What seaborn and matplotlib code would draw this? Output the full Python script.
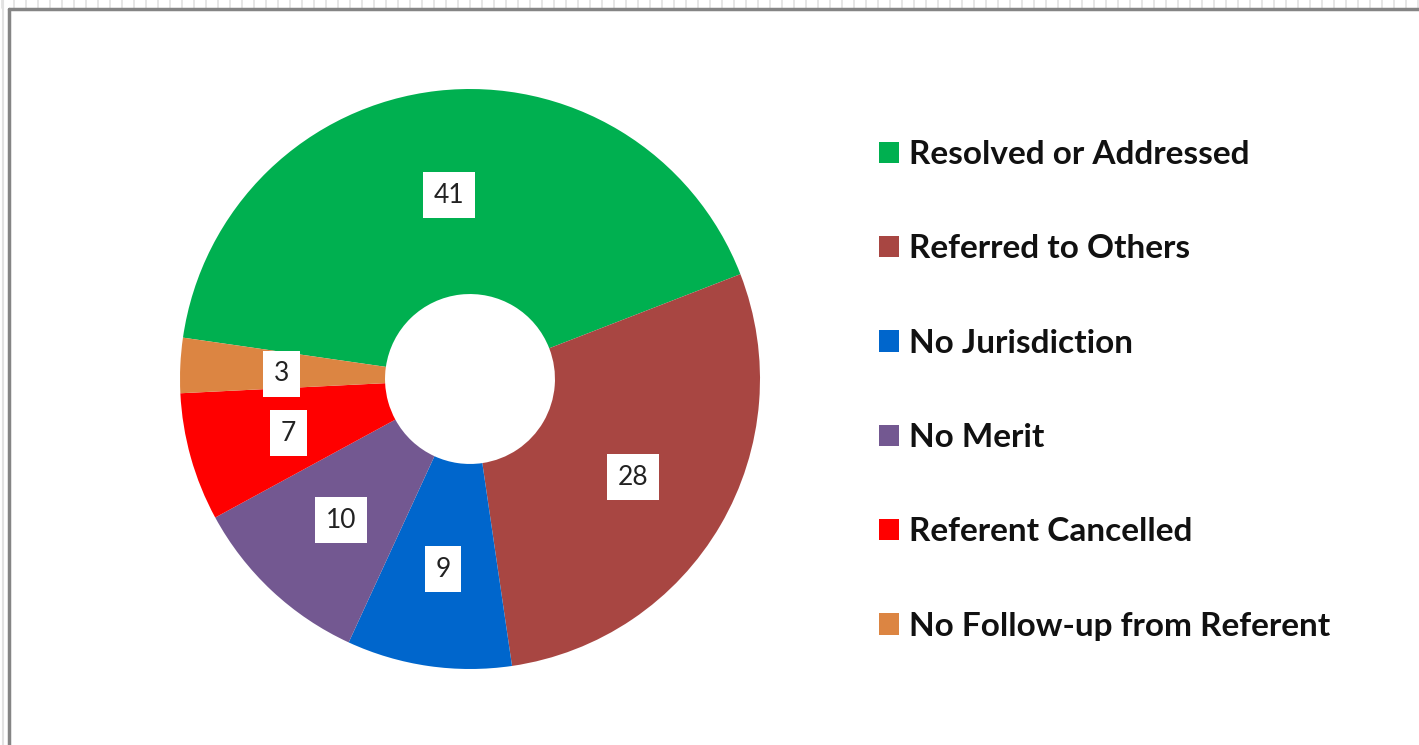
import matplotlib
matplotlib.use("Agg")
import matplotlib.pyplot as plt
from matplotlib.patches import Rectangle
from matplotlib.lines import Line2D
import numpy as np
import seaborn as sns

categories = ["Resolved or Addressed", "Referred to Others", "No Jurisdiction",
              "No Merit", "Referent Cancelled", "No Follow-up from Referent"]
values = [41, 28, 9, 10, 7, 3]
colors = ["#00B050", "#A84642", "#0066CC", "#735891", "#FF0000", "#DC8542"]

sns.set_theme(style="white")
plt.rcParams['font.family'] = ['Lato', 'DejaVu Sans']

W, H = 1419, 745
fig = plt.figure(figsize=(W / 100, H / 100), dpi=100)
fig.patch.set_facecolor("white")

# spreadsheet-like background strips and chart frame
for x in range(2, W, 12):
    fig.add_artist(Line2D([x / W, x / W], [1 - 8 / H, 1], transform=fig.transFigure,
                          color="#e2e2e2", lw=1.2))
fig.add_artist(Line2D([3 / W, 3 / W], [0, 1], transform=fig.transFigure, color="#e2e2e2", lw=1.5))
fig.add_artist(Line2D([8.5 / W, 8.5 / W], [0, 1 - 9 / H], transform=fig.transFigure,
                      color="#858585", lw=2.5))
fig.add_artist(Line2D([8.5 / W, 1], [1 - 9 / H, 1 - 9 / H], transform=fig.transFigure,
                      color="#858585", lw=2.5))

cx, cy, R = 470, 379, 290
ax = fig.add_axes([(cx - R) / W, (H - cy - R) / H, 2 * R / W, 2 * R / H])

wedges, texts = ax.pie(values, colors=colors, startangle=171.8, counterclock=False,
                       radius=1.0, wedgeprops=dict(width=1 - 0.293, edgecolor="none"))
ax.set_xlim(-1, 1)
ax.set_ylim(-1, 1)
for w, v in zip(wedges, values):
    ang = np.deg2rad((w.theta1 + w.theta2) / 2)
    r = 0.65
    ax.text(r * np.cos(ang), r * np.sin(ang) - 0.012, str(v), ha="center", va="center",
            fontsize=19, color="#222222",
            bbox=dict(boxstyle="square,pad=0.4", facecolor="white", edgecolor="none"))
ax.set_axis_off()

handles = [Rectangle((0, 0), 1, 1, facecolor=c, edgecolor="none") for c in colors]
leg = fig.legend(handles, categories, loc="upper left",
                 bbox_to_anchor=(879 / W, 1 - 140 / H), frameon=False,
                 prop=dict(size=24, weight="bold"), labelspacing=1.96,
                 handlelength=0.6, handleheight=0.6, handletextpad=0.3,
                 borderpad=0, borderaxespad=0)
for t in leg.get_texts():
    t.set_color("#111111")

fig.savefig("out.png", dpi=100)
